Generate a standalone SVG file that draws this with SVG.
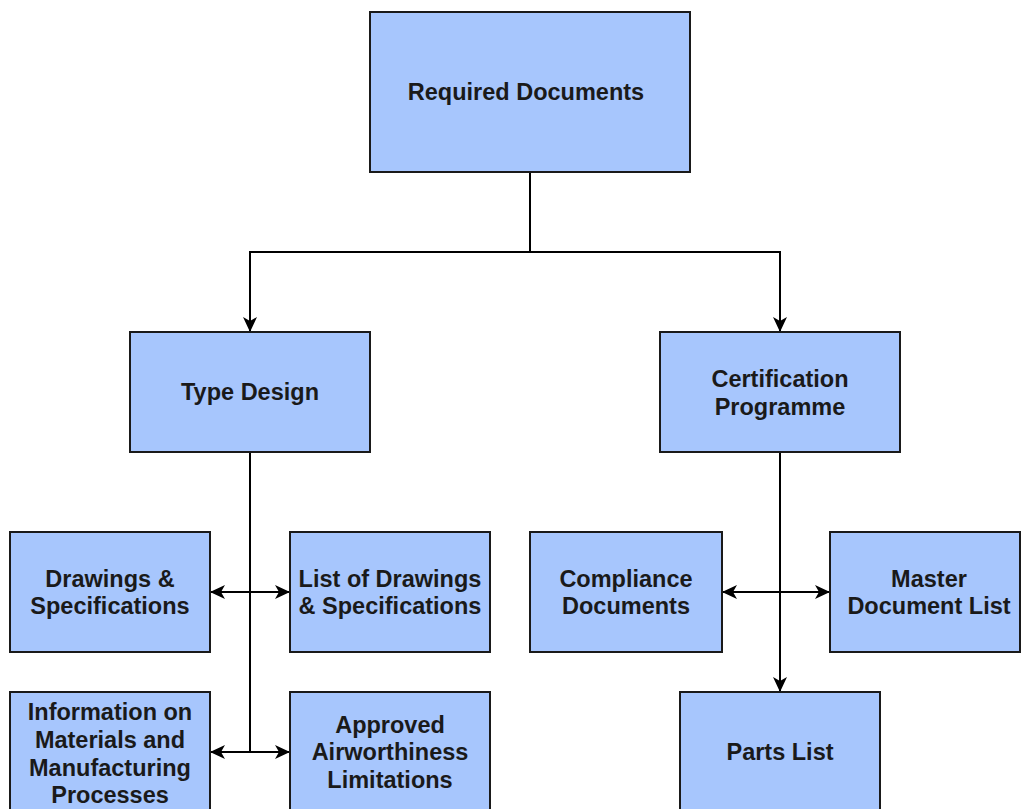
<svg xmlns="http://www.w3.org/2000/svg" width="1024" height="809" viewBox="0 0 1024 809">
<style>
.box{fill:#a7c6fd;stroke:#1a1a1a;stroke-width:2}
.lbl{font-family:"Liberation Sans",Arial,sans-serif;font-weight:bold;font-size:23.5px;fill:#1a1a1a;text-anchor:middle}
.ln{fill:none;stroke:#000;stroke-width:2}
</style>
<defs>
<marker id="ae" markerUnits="userSpaceOnUse" markerWidth="16" markerHeight="14" viewBox="0 0 16 14" refX="15" refY="7" orient="auto-start-reverse">
<path d="M0,0 L15,7 L0,14 L4,7 z" fill="#000"/>
</marker>
</defs>
<rect width="1024" height="809" fill="#fff"/>
<g id="connectors">
<path class="ln" d="M530,172 V252 H250 V332" marker-end="url(#ae)"/>
<path class="ln" d="M530,252 H780 V332" marker-end="url(#ae)"/>
<path class="ln" d="M250,452 V752"/>
<path class="ln" d="M210,592 H290" marker-start="url(#ae)" marker-end="url(#ae)"/>
<path class="ln" d="M210,752 H290" marker-start="url(#ae)" marker-end="url(#ae)"/>
<path class="ln" d="M780,452 V692" marker-end="url(#ae)"/>
<path class="ln" d="M722,592 H830" marker-start="url(#ae)" marker-end="url(#ae)"/>
</g>
<g id="required-documents"><rect class="box" x="370" y="12" width="320" height="160"/><text class="lbl" x="526" y="100">Required Documents</text></g>
<g id="type-design"><rect class="box" x="130" y="332" width="240" height="120"/><text class="lbl" x="250" y="400">Type Design</text></g>
<g id="certification-programme"><rect class="box" x="660" y="332" width="240" height="120"/><text class="lbl" x="780" y="387">Certification</text><text class="lbl" x="780" y="415">Programme</text></g>
<g id="drawings-specifications"><rect class="box" x="10" y="532" width="200" height="120"/><text class="lbl" x="110" y="587">Drawings &amp;</text><text class="lbl" x="110" y="614">Specifications</text></g>
<g id="list-of-drawings"><rect class="box" x="290" y="532" width="200" height="120"/><text class="lbl" x="390" y="587">List of Drawings</text><text class="lbl" x="390" y="614">&amp; Specifications</text></g>
<g id="compliance-documents"><rect class="box" x="530" y="532" width="192" height="120"/><text class="lbl" x="626" y="587">Compliance</text><text class="lbl" x="626" y="614">Documents</text></g>
<g id="master-document-list"><rect class="box" x="830" y="532" width="190" height="120"/><text class="lbl" x="929" y="587">Master</text><text class="lbl" x="929" y="614">Document List</text></g>
<g id="information-materials"><rect class="box" x="10" y="692" width="200" height="140"/><text class="lbl" x="110" y="720">Information on</text><text class="lbl" x="110" y="748">Materials and</text><text class="lbl" x="110" y="776">Manufacturing</text><text class="lbl" x="110" y="803">Processes</text></g>
<g id="approved-airworthiness"><rect class="box" x="290" y="692" width="200" height="140"/><text class="lbl" x="390" y="733">Approved</text><text class="lbl" x="390" y="760">Airworthiness</text><text class="lbl" x="390" y="788">Limitations</text></g>
<g id="parts-list"><rect class="box" x="680" y="692" width="200" height="140"/><text class="lbl" x="780" y="760">Parts List</text></g>
</svg>
